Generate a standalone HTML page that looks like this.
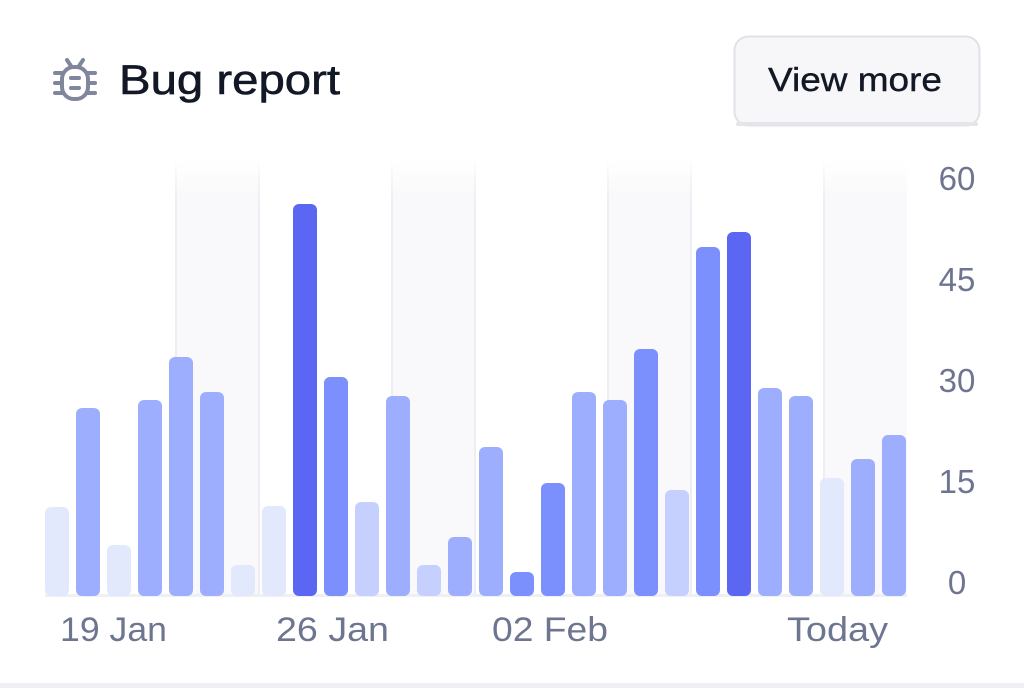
<!DOCTYPE html>
<html><head><meta charset="utf-8"><style>
html,body{margin:0;padding:0;background:#fff;width:1024px;height:688px;overflow:hidden;font-family:"Liberation Sans",sans-serif;}
</style></head><body>
<svg width="1024" height="688" viewBox="0 0 1024 688" xmlns="http://www.w3.org/2000/svg">
<defs>
<linearGradient id="bg" x1="0" y1="0" x2="0" y2="1">
<stop offset="0" stop-color="#fafafc" stop-opacity="0"/>
<stop offset="0.08" stop-color="#f9f9fb"/>
<stop offset="1" stop-color="#f9f9fb"/>
</linearGradient>
<linearGradient id="ln" x1="0" y1="0" x2="0" y2="1">
<stop offset="0" stop-color="#eceef3" stop-opacity="0"/>
<stop offset="0.1" stop-color="#eceef3"/>
<stop offset="1" stop-color="#eceef3"/>
</linearGradient>
</defs>
<g>
<rect x="175" y="160" width="85" height="436" fill="url(#bg)"/>
<rect x="391" y="160" width="85" height="436" fill="url(#bg)"/>
<rect x="607" y="160" width="85" height="436" fill="url(#bg)"/>
<rect x="823" y="160" width="84" height="436" fill="url(#bg)"/>
<rect x="175" y="160" width="2" height="436" fill="url(#ln)"/>
<rect x="258" y="160" width="2" height="436" fill="url(#ln)"/>
<rect x="391" y="160" width="2" height="436" fill="url(#ln)"/>
<rect x="474" y="160" width="2" height="436" fill="url(#ln)"/>
<rect x="607" y="160" width="2" height="436" fill="url(#ln)"/>
<rect x="690" y="160" width="2" height="436" fill="url(#ln)"/>
<rect x="823" y="160" width="2" height="436" fill="url(#ln)"/>
</g>
<rect x="45" y="594" width="862" height="3" fill="#eef0f4"/>
<g>
<rect x="45" y="507" width="24" height="89" rx="6" fill="#e2e9fd"/>
<rect x="76" y="408" width="24" height="188" rx="6" fill="#9daefe"/>
<rect x="107" y="545" width="24" height="51" rx="6" fill="#e2e9fd"/>
<rect x="138" y="400" width="24" height="196" rx="6" fill="#9daefe"/>
<rect x="169" y="357" width="24" height="239" rx="6" fill="#9daefe"/>
<rect x="200" y="392" width="24" height="204" rx="6" fill="#9daefe"/>
<rect x="231" y="565" width="24" height="31" rx="6" fill="#e2e9fd"/>
<rect x="262" y="506" width="24" height="90" rx="6" fill="#e2e9fd"/>
<rect x="293" y="204" width="24" height="392" rx="6" fill="#5b67f2"/>
<rect x="324" y="377" width="24" height="219" rx="6" fill="#7b8ffd"/>
<rect x="355" y="502" width="24" height="94" rx="6" fill="#c5d0fe"/>
<rect x="386" y="396" width="24" height="200" rx="6" fill="#9daefe"/>
<rect x="417" y="565" width="24" height="31" rx="6" fill="#c5d0fe"/>
<rect x="448" y="537" width="24" height="59" rx="6" fill="#9daefe"/>
<rect x="479" y="447" width="24" height="149" rx="6" fill="#9daefe"/>
<rect x="510" y="572" width="24" height="24" rx="6" fill="#7b8ffd"/>
<rect x="541" y="483" width="24" height="113" rx="6" fill="#7b8ffd"/>
<rect x="572" y="392" width="24" height="204" rx="6" fill="#9daefe"/>
<rect x="603" y="400" width="24" height="196" rx="6" fill="#9daefe"/>
<rect x="634" y="349" width="24" height="247" rx="6" fill="#7b8ffd"/>
<rect x="665" y="490" width="24" height="106" rx="6" fill="#c5d0fe"/>
<rect x="696" y="247" width="24" height="349" rx="6" fill="#7b8ffd"/>
<rect x="727" y="232" width="24" height="364" rx="6" fill="#5b67f2"/>
<rect x="758" y="388" width="24" height="208" rx="6" fill="#9daefe"/>
<rect x="789" y="396" width="24" height="200" rx="6" fill="#9daefe"/>
<rect x="820" y="478" width="24" height="118" rx="6" fill="#e2e9fd"/>
<rect x="851" y="459" width="24" height="137" rx="6" fill="#9daefe"/>
<rect x="882" y="435" width="24" height="161" rx="6" fill="#9daefe"/>
</g>
<g font-family="Liberation Sans, sans-serif" font-size="33" fill="#6e7590" text-anchor="middle">
<text x="957" y="190">60</text>
<text x="957" y="291">45</text>
<text x="957" y="392">30</text>
<text x="957" y="493">15</text>
<text x="957" y="594">0</text>
</g>
<g font-family="Liberation Sans, sans-serif" font-size="34" fill="#6e7590">
<text x="60" y="641" textLength="107" lengthAdjust="spacingAndGlyphs">19 Jan</text>
<text x="276" y="641" textLength="113" lengthAdjust="spacingAndGlyphs">26 Jan</text>
<text x="492" y="641" textLength="116" lengthAdjust="spacingAndGlyphs">02 Feb</text>
<text x="787" y="641" textLength="101" lengthAdjust="spacingAndGlyphs">Today</text>
</g>
<g stroke="#80879c" stroke-width="4" fill="none" stroke-linecap="round">
<rect x="62" y="67" width="26" height="32" rx="12"/>
<path d="M67 60 L71 66 M83 60 L79 66"/>
<path d="M55 73 H62 M55 83 H62 M55 93 H62 M88 73 H95 M88 83 H95 M88 93 H95"/>
<path d="M71 78 H79 M71 88 H79"/>
</g>
<text x="119" y="94" font-family="Liberation Sans, sans-serif" font-size="42" fill="#121826" stroke="#121826" stroke-width="0.6" textLength="221" lengthAdjust="spacingAndGlyphs">Bug report</text>
<rect x="734.5" y="36.5" width="245" height="89" rx="14" fill="#f7f7f9" stroke="#e1e2e8" stroke-width="2"/>
<rect x="736" y="122" width="242" height="4" rx="2" fill="#e4e5ea"/>
<text x="768" y="91" font-family="Liberation Sans, sans-serif" font-size="33" fill="#121826" stroke="#121826" stroke-width="0.4" textLength="174" lengthAdjust="spacingAndGlyphs">View more</text>
<rect x="0" y="683" width="1024" height="5" fill="#eef0f4"/>
</svg>
</body></html>
